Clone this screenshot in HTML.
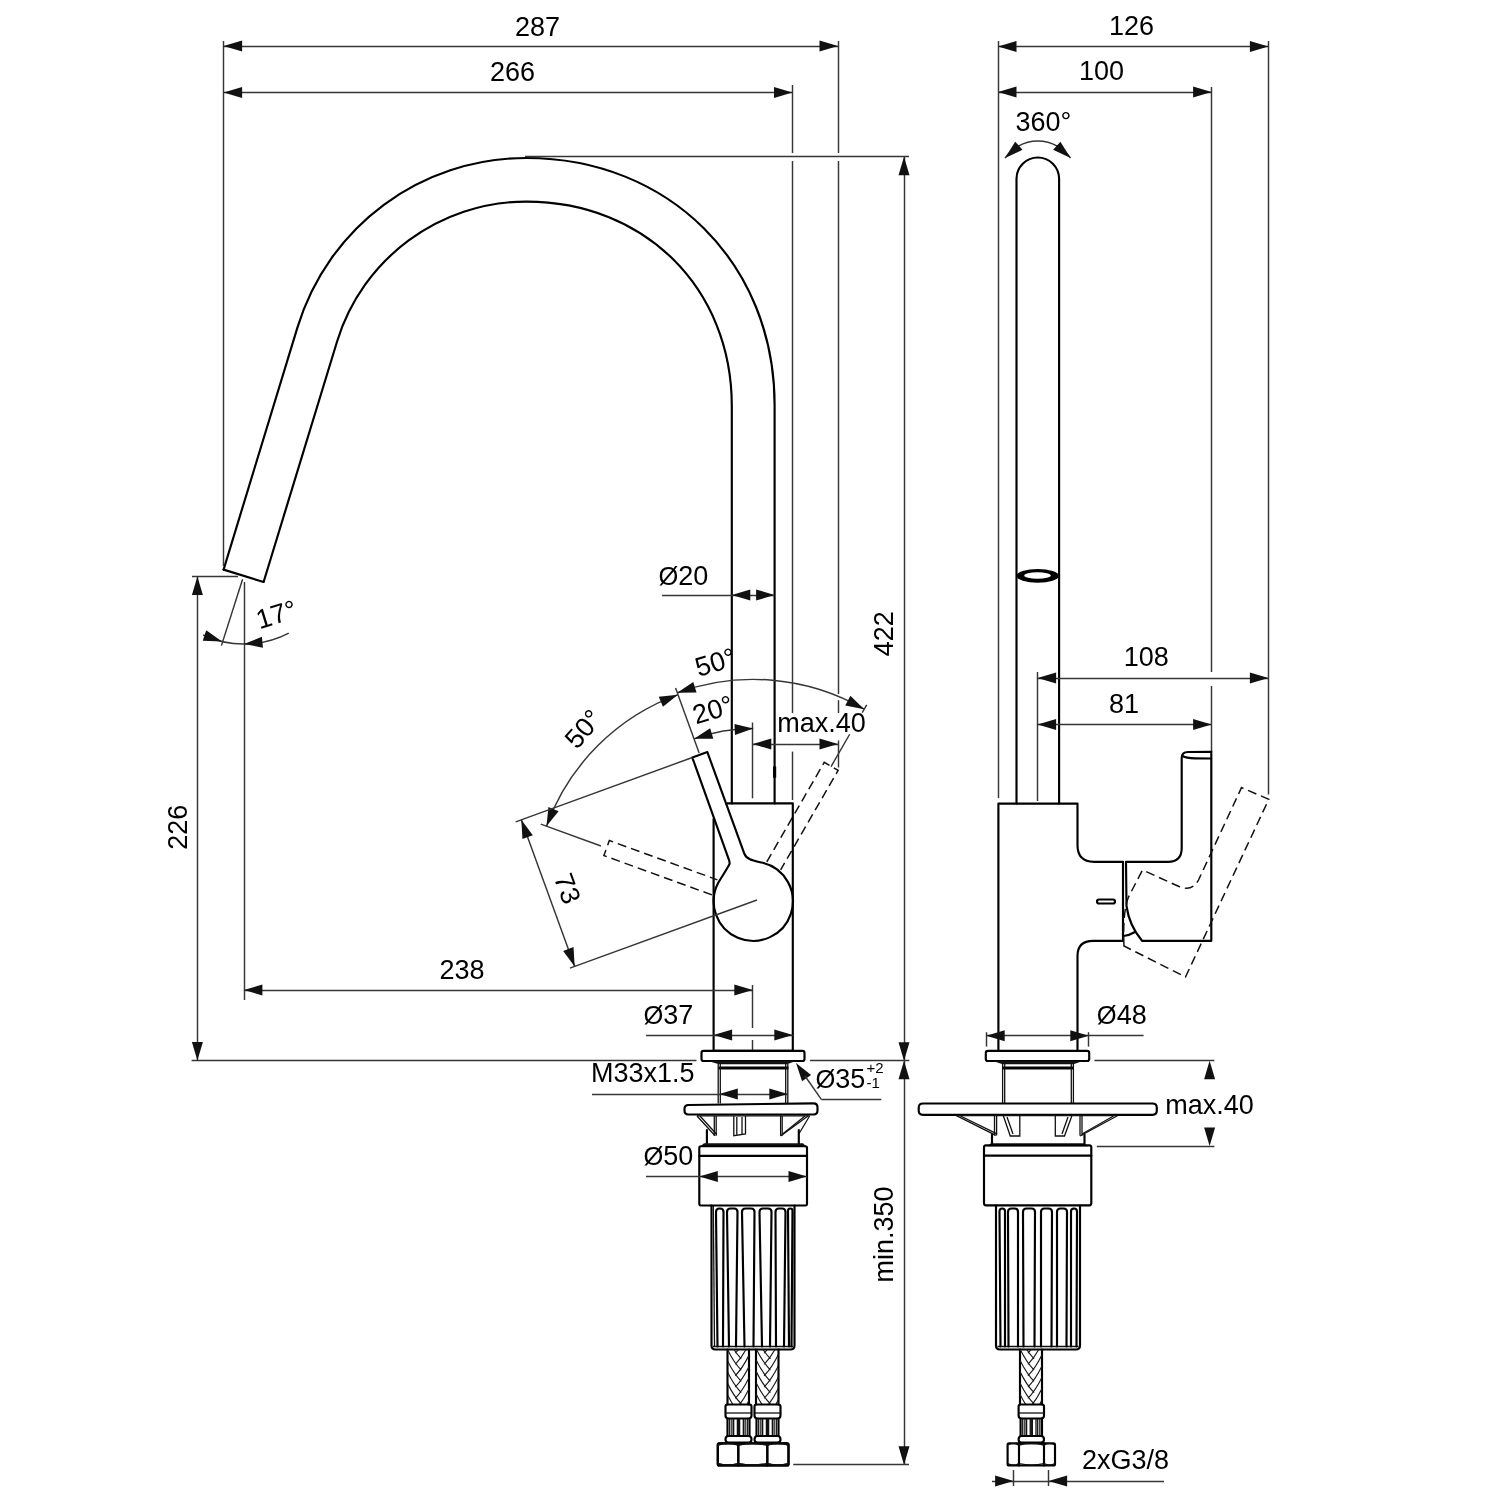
<!DOCTYPE html>
<html><head><meta charset="utf-8"><style>
html,body{margin:0;padding:0;background:#fff;width:1500px;height:1500px;overflow:hidden}
svg{display:block;will-change:transform}
.t{stroke:#363636;stroke-width:1.45;fill:none}
.k{stroke:#000;stroke-width:2.15;fill:none;stroke-linejoin:round;stroke-linecap:round}
.k1{stroke:#111;stroke-width:1.3;fill:none}
.k3{stroke:#000;stroke-width:3.2;fill:none}
.h{stroke:#1a1a1a;stroke-width:1.15;fill:none}
.d{stroke:#111;stroke-width:1.5;fill:none;stroke-dasharray:9 5}
.a{fill:#111;stroke:none}
text{font-family:"Liberation Sans",sans-serif;fill:#000}
</style></head><body>
<svg width="1500" height="1500" viewBox="0 0 1500 1500">
<rect width="1500" height="1500" fill="#fff"/>
<path class="k" d="M223.6,569.6 L297.4,327.6 C328.39,226.23 420.5,158 526.5,158 C668.5,158 774.6,263 774.6,405 L774.6,803.4" />
<path class="k" d="M263.6,582 L337,341.7 C362.44,258.5 439.5,201.6 526.5,201.6 C644.5,201.6 731.8,288 731.8,406 L731.8,803.4" />
<line class="k" x1="223.6" y1="569.6" x2="263.6" y2="582"/>
<line class="k3" x1="774.6" y1="766.5" x2="774.6" y2="777.7"/>
<path class="k" d="M727.5,803.4 L792.8,803.4 L792.8,1050.7 L713.6,1050.7 L713.6,819" />
<path class="k" transform="translate(753.2,901.4) rotate(-20)" d="M-8,-156 L8,-156 L8,-48 C8,-41 15.56,-37.5 22.2,-33 A39.6,39.6 0 1 1 -26.5,-29.4 C-22.8,-32.7 -12.5,-40 -9.4,-43.3 Q-8.6,-44.6 -8.6,-47.5 L-8,-156"/>
<path class="d" transform="translate(753.2,901.4) rotate(30)" d="M-8,-41 L-8,-156 L8,-156 L8,-41"/>
<path class="d" transform="translate(753.2,901.4) rotate(-70)" d="M-8,-41 L-8,-156 L8,-156 L8,-41"/>
<line class="t" x1="752.5" y1="722.5" x2="752.5" y2="798.3"/>
<line class="t" x1="752.5" y1="985" x2="752.5" y2="1028"/>
<line class="t" x1="752.5" y1="1040" x2="752.5" y2="1050"/>
<line class="t" x1="223.5" y1="41" x2="223.5" y2="566"/>
<line class="t" x1="838.5" y1="41" x2="838.5" y2="153"/>
<line class="t" x1="838.5" y1="161" x2="838.5" y2="694"/>
<line class="t" x1="838.5" y1="700.2" x2="838.5" y2="713"/>
<line class="t" x1="838.5" y1="740.5" x2="838.5" y2="767.5"/>
<line class="t" x1="223.6" y1="46.5" x2="838" y2="46.5"/>
<polygon class="a" points="223.6,46 242.1,51.5 242.1,40.5"/>
<polygon class="a" points="838,46 819.5,40.5 819.5,51.5"/>
<text x="537.5" y="35.5" font-size="27" text-anchor="middle">287</text>
<line class="t" x1="792.5" y1="85" x2="792.5" y2="153"/>
<line class="t" x1="792.5" y1="161" x2="792.5" y2="713"/>
<line class="t" x1="792.5" y1="751.6" x2="792.5" y2="800"/>
<line class="t" x1="223.6" y1="92.5" x2="792.5" y2="92.5"/>
<polygon class="a" points="223.6,92.5 242.1,98 242.1,87"/>
<polygon class="a" points="792.5,92.5 774,87 774,98"/>
<text x="512.5" y="80.5" font-size="27" text-anchor="middle">266</text>
<line class="t" x1="525" y1="156.5" x2="909" y2="156.5"/>
<line class="t" x1="904.5" y1="156.8" x2="904.5" y2="1464.8"/>
<polygon class="a" points="904,156.8 898.5,175.3 909.5,175.3"/>
<polygon class="a" points="904,1060.7 909.5,1042.2 898.5,1042.2"/>
<polygon class="a" points="904,1060.7 898.5,1079.2 909.5,1079.2"/>
<polygon class="a" points="904,1464.8 909.5,1446.3 898.5,1446.3"/>
<text x="893.2" y="633.8" font-size="27" text-anchor="middle" transform="rotate(-90 893.2 633.8)">422</text>
<text x="892.8" y="1234.4" font-size="27" text-anchor="middle" transform="rotate(-90 892.8 1234.4)">min.350</text>
<line class="t" x1="793.2" y1="1464.5" x2="909" y2="1464.5"/>
<line class="t" x1="191.6" y1="1060.5" x2="696.5" y2="1060.5"/>
<line class="t" x1="810" y1="1060.5" x2="909.3" y2="1060.5"/>
<line class="t" x1="192" y1="576.5" x2="238" y2="576.5"/>
<line class="t" x1="197.5" y1="576.4" x2="197.5" y2="1060.4"/>
<polygon class="a" points="197.4,576.4 191.9,594.9 202.9,594.9"/>
<polygon class="a" points="197.4,1060.4 202.9,1041.9 191.9,1041.9"/>
<text x="187.3" y="827.2" font-size="27" text-anchor="middle" transform="rotate(-90 187.3 827.2)">226</text>
<line class="t" x1="244.5" y1="582" x2="244.5" y2="1000"/>
<line class="t" x1="242.6" y1="579.2" x2="221.4" y2="645.6"/>
<path class="t" d="M203.16,634.98 A97,97 0 0 0 288.79,633.04" />
<polygon class="a" points="222.01,641.48 206.23,630.37 202.73,640.8"/>
<polygon class="a" points="244,644 262.94,647.71 261.89,636.76"/>
<text x="276.5" y="614.6" font-size="27" text-anchor="middle" transform="rotate(-17 276.5 614.6)" dy="9">17°</text>
<line class="t" x1="243.9" y1="990.5" x2="752.8" y2="990.5"/>
<polygon class="a" points="243.9,990 262.4,995.5 262.4,984.5"/>
<polygon class="a" points="752.8,990 734.3,984.5 734.3,995.5"/>
<text x="462" y="978.7" font-size="27" text-anchor="middle">238</text>
<line class="t" x1="662" y1="595.5" x2="774.6" y2="595.5"/>
<polygon class="a" points="731.8,595 750.3,600.5 750.3,589.5"/>
<polygon class="a" points="774.6,595 756.1,589.5 756.1,600.5"/>
<text x="658.5" y="585" font-size="27"><tspan font-size="25.5">Ø</tspan>20</text>
<line class="t" x1="646" y1="1035.5" x2="792.8" y2="1035.5"/>
<polygon class="a" points="713.6,1035.1 732.1,1040.6 732.1,1029.6"/>
<polygon class="a" points="792.8,1035.1 774.3,1029.6 774.3,1040.6"/>
<text x="643.5" y="1024" font-size="27"><tspan font-size="25.5">Ø</tspan>37</text>
<path class="t" d="M694.03,738.83 A173,173 0 0 1 753.2,728.4" />
<polygon class="a" points="694.03,738.83 713.33,738.71 710.13,728.18"/>
<polygon class="a" points="753.2,728.4 734.43,723.9 735.02,734.88"/>
<text x="713" y="710" font-size="27" text-anchor="middle" transform="rotate(-17 713 710)" dy="9">20°</text>
<path class="t" d="M677.27,692.79 A222,222 0 0 1 864.2,709.14" />
<polygon class="a" points="677.27,692.79 696.57,692.43 693.24,681.95"/>
<polygon class="a" points="864.2,709.14 850.36,695.69 845.26,705.44"/>
<text x="715.5" y="662.5" font-size="27" text-anchor="middle" transform="rotate(-17 715.5 662.5)" dy="9">50°</text>
<path class="t" d="M546.47,826.16 A220,220 0 0 1 677.96,694.67" />
<polygon class="a" points="677.96,694.67 658.76,696.64 662.95,706.8"/>
<polygon class="a" points="546.47,826.16 558.6,811.15 548.44,806.96"/>
<text x="583.5" y="729" font-size="27" text-anchor="middle" transform="rotate(-49 583.5 729)" dy="9">50°</text>
<line class="t" x1="699.16" y1="752.93" x2="675.56" y2="688.09"/>
<line class="t" x1="831.05" y1="766.56" x2="849.7" y2="734.26"/>
<line class="t" x1="862.2" y1="712.61" x2="866.7" y2="704.81"/>
<line class="t" x1="600.97" y1="845.99" x2="540.83" y2="824.1"/>
<line class="t" x1="692.33" y1="757.54" x2="515.67" y2="821.84"/>
<line class="t" x1="756.96" y1="900.03" x2="569.96" y2="968.09"/>
<line class="t" x1="521.3" y1="819.79" x2="574.66" y2="966.38"/>
<polygon class="a" points="521.3,819.79 522.46,839.06 532.8,835.29"/>
<polygon class="a" points="574.66,966.38 573.5,947.12 563.16,950.88"/>
<text x="567.5" y="888.5" font-size="27" text-anchor="middle" transform="rotate(70 567.5 888.5)" dy="9.3">73</text>
<line class="t" x1="752.8" y1="744.5" x2="838" y2="744.5"/>
<polygon class="a" points="752.8,744.1 771.3,749.6 771.3,738.6"/>
<polygon class="a" points="838,744.1 819.5,738.6 819.5,749.6"/>
<text x="777.2" y="732.3" font-size="27">max.40</text>
<path class="k" d="M703.5,1050.8 L802.5,1050.8 Q804.5,1050.8 804.5,1053 L804.5,1059 Q804.5,1061 802.5,1061 L703.5,1061 Q701.5,1061 701.5,1059 L701.5,1053 Q701.5,1050.8 703.5,1050.8 Z" />
<polygon class="a" points="708,1061 796,1061 787,1064.2 719,1064.2"/>
<line class="k3" x1="718.5" y1="1068" x2="788.5" y2="1068"/>
<line class="k1" x1="718.2" y1="1064" x2="718.2" y2="1103.5"/>
<line class="k1" x1="720.3" y1="1064" x2="720.3" y2="1103.5"/>
<line class="k1" x1="785.7" y1="1064" x2="785.7" y2="1103.5"/>
<line class="k1" x1="787.8" y1="1064" x2="787.8" y2="1103.5"/>
<line class="t" x1="592" y1="1094.5" x2="787.8" y2="1094.5"/>
<polygon class="a" points="719.3,1094 737.8,1099.5 737.8,1088.5"/>
<polygon class="a" points="787.8,1094 769.3,1088.5 769.3,1099.5"/>
<text x="591" y="1082" font-size="27">M33x1.5</text>
<polygon class="a" points="796,1063 802.07,1081.32 811.09,1075.03"/>
<line class="t" x1="805" y1="1076" x2="821.3" y2="1099.3"/>
<line class="t" x1="821.3" y1="1099.5" x2="881.3" y2="1099.5"/>
<text x="815.5" y="1088" font-size="27"><tspan font-size="25.5">Ø</tspan>35</text>
<text x="866.5" y="1073" font-size="15">+2</text>
<text x="866.5" y="1087.6" font-size="15">-1</text>
<path class="k" d="M688.5,1105 L813.5,1103.3 Q817.5,1103.3 817.5,1107.3 L817.5,1110.5 Q817.5,1114.5 813.5,1114.5 L688.5,1114.5 Q684.5,1114.5 684.5,1110.5 L684.5,1109 Q684.5,1105 688.5,1105 Z" />
<line class="k1" x1="697" y1="1115.8" x2="809.6" y2="1115.8"/>
<line class="k1" x1="697" y1="1116" x2="715.1" y2="1135.7"/>
<line class="k1" x1="700" y1="1116" x2="716.8" y2="1134.5"/>
<line class="k1" x1="808" y1="1116" x2="780.6" y2="1136"/>
<line class="k1" x1="805" y1="1116" x2="782" y2="1134.5"/>
<line class="k1" x1="809.6" y1="1116" x2="798.5" y2="1134.5"/>
<line class="k1" x1="714.3" y1="1116" x2="714.3" y2="1135.7"/>
<line class="k1" x1="716.2" y1="1116" x2="716.2" y2="1135.7"/>
<line class="k1" x1="780.6" y1="1116" x2="780.6" y2="1135.7"/>
<line class="k1" x1="782.2" y1="1116" x2="782.2" y2="1135.7"/>
<path class="k1" d="M733.8,1116 L733.8,1135.7 L745.5,1134 L745.5,1116 M736.8,1117 L736.8,1134.5 M742,1117 L742,1134" />
<line class="k" x1="706.9" y1="1130" x2="706.9" y2="1144.5"/>
<line class="k" x1="798.8" y1="1130" x2="798.8" y2="1144.5"/>
<polygon class="a" points="704,1143.2 803,1143.2 806,1146.2 700.5,1146.2"/>
<path class="k" d="M701,1146.2 L805.3,1146.2 Q807,1146.2 807,1148 L807,1203.8 Q807,1205.5 805.3,1205.5 L701,1205.5 Q699.3,1205.5 699.3,1203.8 L699.3,1148 Q699.3,1146.2 701,1146.2 Z" />
<line class="k" x1="699.3" y1="1155.8" x2="807" y2="1155.8"/>
<line class="t" x1="646" y1="1176.5" x2="807" y2="1176.5"/>
<polygon class="a" points="699.3,1176.5 717.8,1182 717.8,1171"/>
<polygon class="a" points="807,1176.5 788.5,1171 788.5,1182"/>
<text x="643.5" y="1165" font-size="27"><tspan font-size="25.5">Ø</tspan>50</text>
<path class="k" d="M711.5,1205.5 L711.5,1345.5 Q711.5,1349.5 715.5,1349.5 L790.5,1349.5 Q794.5,1349.5 794.5,1345.5 L794.5,1205.5" />
<line class="k1" x1="713" y1="1346.5" x2="793" y2="1346.5"/>
<path class="k" d="M717.5,1346.5 L716,1212.0 Q716,1208.5 719.5,1208.5 L720,1208.5 Q723.5,1208.5 723.5,1212.0 L723,1346.5" />
<path class="k" d="M729,1346.5 L727,1212.0 Q727,1208.5 730.5,1208.5 L734,1208.5 Q737.5,1208.5 737.5,1212.0 L736,1346.5" />
<path class="k" d="M744.5,1346.5 L742,1212.0 Q742,1208.5 745.5,1208.5 L751,1208.5 Q754.5,1208.5 754.5,1212.0 L753.5,1346.5" />
<path class="k" d="M762,1346.5 L759.5,1212.0 Q759.5,1208.5 763,1208.5 L768,1208.5 Q771.5,1208.5 771.5,1212.0 L770,1346.5" />
<path class="k" d="M776,1346.5 L775.5,1212.0 Q775.5,1208.5 779,1208.5 L782,1208.5 Q785.5,1208.5 785.5,1212.0 L784,1346.5" />
<path class="k" d="M789,1346.5 L788,1210.75 Q788,1208.5 790.25,1208.5 L790.25,1208.5 Q792.5,1208.5 792.5,1210.75 L791.5,1346.5" />
<line class="k1" x1="713.3" y1="1206" x2="714.5" y2="1346"/>
<line class="k" x1="727.5" y1="1349.5" x2="727.5" y2="1404.5"/>
<line class="k" x1="749" y1="1349.5" x2="749" y2="1404.5"/>
<clipPath id="hc727"><rect x="727.5" y="1349.5" width="21.5" height="55"/></clipPath>
<path class="h" d="M727.5,1326.86 Q733.69,1339.66 741.26,1347.5 M749,1332.51 Q742.81,1345.31 735.24,1353.15 M727.5,1338.16 Q733.69,1350.96 741.26,1358.8 M749,1343.81 Q742.81,1356.61 735.24,1364.45 M727.5,1349.46 Q733.69,1362.26 741.26,1370.1 M749,1355.11 Q742.81,1367.91 735.24,1375.75 M727.5,1360.76 Q733.69,1373.56 741.26,1381.4 M749,1366.41 Q742.81,1379.21 735.24,1387.05 M727.5,1372.06 Q733.69,1384.86 741.26,1392.7 M749,1377.71 Q742.81,1390.51 735.24,1398.35 M727.5,1383.36 Q733.69,1396.16 741.26,1404 M749,1389.01 Q742.81,1401.81 735.24,1409.65 M727.5,1394.66 Q733.69,1407.46 741.26,1415.3 M749,1400.31 Q742.81,1413.11 735.24,1420.95 M727.5,1405.96 Q733.69,1418.76 741.26,1426.6 M749,1411.61 Q742.81,1424.41 735.24,1432.25 " clip-path="url(#hc727)"/>
<line class="k" x1="756" y1="1349.5" x2="756" y2="1404.5"/>
<line class="k" x1="778.5" y1="1349.5" x2="778.5" y2="1404.5"/>
<clipPath id="hc756"><rect x="756" y="1349.5" width="22.5" height="55"/></clipPath>
<path class="h" d="M756,1325.9 Q762.48,1339.29 770.4,1347.5 M778.5,1331.55 Q772.02,1344.94 764.1,1353.15 M756,1337.2 Q762.48,1350.59 770.4,1358.8 M778.5,1342.85 Q772.02,1356.24 764.1,1364.45 M756,1348.5 Q762.48,1361.89 770.4,1370.1 M778.5,1354.15 Q772.02,1367.54 764.1,1375.75 M756,1359.8 Q762.48,1373.19 770.4,1381.4 M778.5,1365.45 Q772.02,1378.84 764.1,1387.05 M756,1371.1 Q762.48,1384.49 770.4,1392.7 M778.5,1376.75 Q772.02,1390.14 764.1,1398.35 M756,1382.4 Q762.48,1395.79 770.4,1404 M778.5,1388.05 Q772.02,1401.44 764.1,1409.65 M756,1393.7 Q762.48,1407.09 770.4,1415.3 M778.5,1399.35 Q772.02,1412.74 764.1,1420.95 M756,1405 Q762.48,1418.39 770.4,1426.6 M778.5,1410.65 Q772.02,1424.04 764.1,1432.25 " clip-path="url(#hc756)"/>
<path class="k" d="M727.5,1404.5 L749.5,1404.5 Q751.5,1404.5 751.5,1406.5 L751.5,1415.5 Q751.5,1418.5 748.5,1418.5 L728.5,1418.5 Q725.5,1418.5 725.5,1415.5 L725.5,1406.5 Q725.5,1404.5 727.5,1404.5 Z" />
<line class="k1" x1="725.5" y1="1413" x2="751.5" y2="1413"/>
<line class="k" x1="727.5" y1="1418.5" x2="727.5" y2="1436"/>
<line class="k" x1="749.5" y1="1418.5" x2="749.5" y2="1436"/>
<line class="k1" x1="729.7" y1="1418.5" x2="729.7" y2="1436"/>
<line class="k1" x1="731.9" y1="1418.5" x2="731.9" y2="1436"/>
<line class="k1" x1="733.66" y1="1418.5" x2="733.66" y2="1436"/>
<line class="k1" x1="737.4" y1="1418.5" x2="737.4" y2="1436"/>
<line class="k1" x1="738.5" y1="1418.5" x2="738.5" y2="1436"/>
<line class="k1" x1="739.6" y1="1418.5" x2="739.6" y2="1436"/>
<line class="k1" x1="743.34" y1="1418.5" x2="743.34" y2="1436"/>
<line class="k1" x1="745.1" y1="1418.5" x2="745.1" y2="1436"/>
<line class="k1" x1="747.3" y1="1418.5" x2="747.3" y2="1436"/>
<path class="k" d="M728.5,1436.0 L748.5,1436.0 Q751.5,1436.0 751.5,1439.5 Q751.5,1442.5 748.5,1442.5 L728.5,1442.5 Q725.5,1442.5 725.5,1439.5 Q725.5,1436.0 728.5,1436.0 Z" />
<path class="k" d="M719.3,1443.2 L787,1443.2 Q788.5,1443.2 788.5,1444.7 L788.5,1464.0 Q788.5,1465.5 787,1465.5 L719.3,1465.5 Q717.8,1465.5 717.8,1464.0 L717.8,1444.7 Q717.8,1443.2 719.3,1443.2 Z" />
<line class="k" x1="738.3" y1="1443.2" x2="738.3" y2="1465.5"/>
<line class="k" x1="767.3" y1="1443.2" x2="767.3" y2="1465.5"/>
<path class="k1" d="M717.8,1445.0 Q728.05,1442.4 738.3,1445.0 M717.8,1463.7 Q728.05,1466.3 738.3,1463.7" />
<path class="k1" d="M738.3,1445.0 Q752.8,1442.4 767.3,1445.0 M738.3,1463.7 Q752.8,1466.3 767.3,1463.7" />
<path class="k1" d="M767.3,1445.0 Q777.9,1442.4 788.5,1445.0 M767.3,1463.7 Q777.9,1466.3 788.5,1463.7" />
<path class="k" d="M756.5,1404.5 L778.5,1404.5 Q780.5,1404.5 780.5,1406.5 L780.5,1415.5 Q780.5,1418.5 777.5,1418.5 L757.5,1418.5 Q754.5,1418.5 754.5,1415.5 L754.5,1406.5 Q754.5,1404.5 756.5,1404.5 Z" />
<line class="k1" x1="754.5" y1="1413" x2="780.5" y2="1413"/>
<line class="k" x1="756.5" y1="1418.5" x2="756.5" y2="1436"/>
<line class="k" x1="778.5" y1="1418.5" x2="778.5" y2="1436"/>
<line class="k1" x1="758.7" y1="1418.5" x2="758.7" y2="1436"/>
<line class="k1" x1="760.9" y1="1418.5" x2="760.9" y2="1436"/>
<line class="k1" x1="762.66" y1="1418.5" x2="762.66" y2="1436"/>
<line class="k1" x1="766.4" y1="1418.5" x2="766.4" y2="1436"/>
<line class="k1" x1="767.5" y1="1418.5" x2="767.5" y2="1436"/>
<line class="k1" x1="768.6" y1="1418.5" x2="768.6" y2="1436"/>
<line class="k1" x1="772.34" y1="1418.5" x2="772.34" y2="1436"/>
<line class="k1" x1="774.1" y1="1418.5" x2="774.1" y2="1436"/>
<line class="k1" x1="776.3" y1="1418.5" x2="776.3" y2="1436"/>
<path class="k" d="M757.5,1436.0 L777.5,1436.0 Q780.5,1436.0 780.5,1439.5 Q780.5,1442.5 777.5,1442.5 L757.5,1442.5 Q754.5,1442.5 754.5,1439.5 Q754.5,1436.0 757.5,1436.0 Z" />
<path class="k" d="M719.3,1443.2 L787,1443.2 Q788.5,1443.2 788.5,1444.7 L788.5,1464.0 Q788.5,1465.5 787,1465.5 L719.3,1465.5 Q717.8,1465.5 717.8,1464.0 L717.8,1444.7 Q717.8,1443.2 719.3,1443.2 Z" />
<line class="k" x1="738.3" y1="1443.2" x2="738.3" y2="1465.5"/>
<line class="k" x1="767.3" y1="1443.2" x2="767.3" y2="1465.5"/>
<path class="k1" d="M717.8,1445.0 Q728.05,1442.4 738.3,1445.0 M717.8,1463.7 Q728.05,1466.3 738.3,1463.7" />
<path class="k1" d="M738.3,1445.0 Q752.8,1442.4 767.3,1445.0 M738.3,1463.7 Q752.8,1466.3 767.3,1463.7" />
<path class="k1" d="M767.3,1445.0 Q777.9,1442.4 788.5,1445.0 M767.3,1463.7 Q777.9,1466.3 788.5,1463.7" />
<line class="t" x1="998.5" y1="41" x2="998.5" y2="798"/>
<line class="t" x1="1268.5" y1="41" x2="1268.5" y2="794.6"/>
<line class="t" x1="998" y1="46.5" x2="1268.4" y2="46.5"/>
<polygon class="a" points="998,46.5 1016.5,52 1016.5,41"/>
<polygon class="a" points="1268.4,46.5 1249.9,41 1249.9,52"/>
<text x="1131.5" y="35.4" font-size="27" text-anchor="middle">126</text>
<line class="t" x1="1211.5" y1="87" x2="1211.5" y2="672"/>
<line class="t" x1="1211.5" y1="686" x2="1211.5" y2="752"/>
<line class="t" x1="998" y1="92.5" x2="1211.6" y2="92.5"/>
<polygon class="a" points="998,92.1 1016.5,97.6 1016.5,86.6"/>
<polygon class="a" points="1211.6,92.1 1193.1,86.6 1193.1,97.6"/>
<text x="1101.5" y="80.4" font-size="27" text-anchor="middle">100</text>
<path class="t" d="M1005.03,158.06 A40,40 0 0 1 1070.57,158.06" />
<polygon class="a" points="1005.03,158.06 1022.5,149.84 1015.17,141.63"/>
<polygon class="a" points="1070.57,158.06 1060.43,141.63 1053.1,149.84"/>
<text x="1043.5" y="130.8" font-size="27" text-anchor="middle">360°</text>
<path class="k" d="M1016.5,803.6 L1016.5,178.8 A21.3,21.3 0 0 1 1059.1,178.8 L1059.1,803.6" />
<ellipse cx="1037.7" cy="575.8" rx="21.2" ry="6.9" fill="#000"/>
<ellipse cx="1037.5" cy="575.5" rx="13.3" ry="3.3" fill="#fff"/>
<line class="t" x1="1037.5" y1="672" x2="1037.5" y2="801"/>
<line class="t" x1="1037.6" y1="678.5" x2="1268.4" y2="678.5"/>
<polygon class="a" points="1037.6,678 1056.1,683.5 1056.1,672.5"/>
<polygon class="a" points="1268.4,678 1249.9,672.5 1249.9,683.5"/>
<text x="1146.3" y="666.4" font-size="27" text-anchor="middle">108</text>
<line class="t" x1="1037.6" y1="724.5" x2="1211.6" y2="724.5"/>
<polygon class="a" points="1037.6,724.4 1056.1,729.9 1056.1,718.9"/>
<polygon class="a" points="1211.6,724.4 1193.1,718.9 1193.1,729.9"/>
<text x="1124" y="713" font-size="27" text-anchor="middle">81</text>
<path class="k" d="M998.4,1051 L998.4,803.6 L1077.5,803.6 L1077.5,845 Q1077.5,861.8 1094,861.8 L1123,861.8 L1123,940.8 L1093,940.8 Q1077.5,940.8 1077.5,956 L1077.5,1051" />
<path class="k" d="M1126,861.8 L1168,861.8 Q1181.7,861.8 1181.7,848 L1181.7,758 Q1181.7,752 1188,752 L1211.3,751.7 L1211.3,940.8 L1142,940.8 Q1129,925 1126.5,906 L1126,861.8" />
<path class="k" d="M1182.5,756 Q1186,758.3 1195,758.3 L1211,758.5" />
<path class="k" d="M1123.5,936 Q1129,935.5 1135,932" />
<path class="k" d="M1099,899.5 L1113,899.5 Q1115,899.5 1115,901.5 Q1115,903.5 1113,903.5 L1099,903.5 Q1097,903.5 1097,901.5 Q1097,899.5 1099,899.5 Z" />
<path class="d" d="M1124,946 C1123,928 1124,908 1128.5,897 L1142.5,870 L1179,886.5 Q1192,892 1198.5,880 L1241.5,787.6 L1268.8,799.3 L1185.5,977 Z" />
<line class="t" x1="986.5" y1="1032.2" x2="986.5" y2="1046.6"/>
<line class="t" x1="1088.5" y1="1032.2" x2="1088.5" y2="1046.6"/>
<line class="t" x1="986.2" y1="1035.5" x2="1143.6" y2="1035.5"/>
<polygon class="a" points="986.2,1035.8 1004.7,1041.3 1004.7,1030.3"/>
<polygon class="a" points="1088.8,1035.8 1070.3,1030.3 1070.3,1041.3"/>
<text x="1096.8" y="1024.4" font-size="27"><tspan font-size="25.5">Ø</tspan>48</text>
<path class="k" d="M988,1050.8 L1087,1050.8 Q1089.2,1050.8 1089.2,1053 L1089.2,1059 Q1089.2,1061 1087,1061 L988,1061 Q985.8,1061 985.8,1059 L985.8,1053 Q985.8,1050.8 988,1050.8 Z" />
<polygon class="a" points="993,1061 1083,1061 1073.4,1064.2 1002.6,1064.2"/>
<line class="k3" x1="1002.6" y1="1068" x2="1073.4" y2="1068"/>
<line class="k1" x1="1002.6" y1="1064" x2="1002.6" y2="1103.5"/>
<line class="k1" x1="1004.7" y1="1064" x2="1004.7" y2="1103.5"/>
<line class="k1" x1="1071.3" y1="1064" x2="1071.3" y2="1103.5"/>
<line class="k1" x1="1073.4" y1="1064" x2="1073.4" y2="1103.5"/>
<line class="t" x1="1094.4" y1="1060.5" x2="1214.4" y2="1060.5"/>
<line class="t" x1="1096.8" y1="1146.5" x2="1214.4" y2="1146.5"/>
<polygon class="a" points="1209.6,1060.8 1204.1,1079.3 1215.1,1079.3"/>
<polygon class="a" points="1209.6,1146 1215.1,1127.5 1204.1,1127.5"/>
<text x="1165.3" y="1113.6" font-size="27">max.40</text>
<path class="k" d="M923,1103.5 L1152.5,1103.5 Q1156.8,1103.5 1156.8,1107.8 L1156.8,1110.5 Q1156.8,1114.8 1152.5,1114.8 L923,1114.8 Q918.7,1114.8 918.7,1110.5 L918.7,1107.8 Q918.7,1103.5 923,1103.5 Z" />
<line class="k1" x1="956.5" y1="1115.7" x2="1117.4" y2="1115.7"/>
<line class="k1" x1="956.5" y1="1115.7" x2="995.8" y2="1135.4"/>
<line class="k1" x1="960.5" y1="1116" x2="997" y2="1133.8"/>
<line class="k1" x1="1117.4" y1="1115.7" x2="1080" y2="1136"/>
<line class="k1" x1="1113.5" y1="1116" x2="1082" y2="1134"/>
<line class="k1" x1="994.5" y1="1116" x2="994.5" y2="1135.5"/>
<line class="k1" x1="996.6" y1="1116" x2="996.6" y2="1135.5"/>
<line class="k1" x1="1080" y1="1116" x2="1080" y2="1135.5"/>
<line class="k1" x1="1082" y1="1116" x2="1082" y2="1135.5"/>
<path class="k1" d="M1003.4,1116 L1010.3,1136 L1019.8,1136 L1019.8,1116 M1007,1117 L1013,1134 M1055.3,1116 L1055.3,1136 L1064.5,1136 L1071.8,1116 M1068,1117 L1062,1134" />
<line class="k" x1="992" y1="1134.8" x2="992" y2="1144.5"/>
<line class="k" x1="1084.5" y1="1134.8" x2="1084.5" y2="1144.5"/>
<polygon class="a" points="991,1143.2 1084,1143.2 1088,1146.2 987,1146.2"/>
<path class="k" d="M986,1145.3 L1089.3,1145.3 Q1091.3,1145.3 1091.3,1147.3 L1091.3,1203.3 Q1091.3,1205.3 1089.3,1205.3 L986,1205.3 Q984,1205.3 984,1203.3 L984,1147.3 Q984,1145.3 986,1145.3 Z" />
<line class="k" x1="984" y1="1155.6" x2="1091.3" y2="1155.6"/>
<path class="k" d="M996,1205.5 L996,1345.5 Q996,1349.5 1000,1349.5 L1076,1349.5 Q1080,1349.5 1080,1345.5 L1080,1205.5" />
<line class="k1" x1="997.5" y1="1346.5" x2="1078.5" y2="1346.5"/>
<path class="k" d="M1000.5,1346.5 L999.5,1211.25 Q999.5,1208.5 1002.25,1208.5 L1002.25,1208.5 Q1005,1208.5 1005,1211.25 L1005,1346.5" />
<path class="k" d="M1008.5,1346.5 L1008,1212.0 Q1008,1208.5 1011.5,1208.5 L1014.5,1208.5 Q1018,1208.5 1018,1212.0 L1018,1346.5" />
<path class="k" d="M1023.5,1346.5 L1023,1212.0 Q1023,1208.5 1026.5,1208.5 L1031.5,1208.5 Q1035,1208.5 1035,1212.0 L1034.5,1346.5" />
<path class="k" d="M1041,1346.5 L1041,1212.0 Q1041,1208.5 1044.5,1208.5 L1048.5,1208.5 Q1052,1208.5 1052,1212.0 L1051.5,1346.5" />
<path class="k" d="M1057,1346.5 L1057,1212.0 Q1057,1208.5 1060.5,1208.5 L1063.5,1208.5 Q1067,1208.5 1067,1212.0 L1066.5,1346.5" />
<path class="k" d="M1071,1346.5 L1071,1211.5 Q1071,1208.5 1074,1208.5 L1074,1208.5 Q1077,1208.5 1077,1211.5 L1076.5,1346.5" />
<line class="k" x1="1020" y1="1349.5" x2="1020" y2="1404.5"/>
<line class="k" x1="1042" y1="1349.5" x2="1042" y2="1404.5"/>
<clipPath id="hc1020"><rect x="1020" y="1349.5" width="22" height="55"/></clipPath>
<path class="h" d="M1020,1326.38 Q1026.34,1339.47 1034.08,1347.5 M1042,1332.03 Q1035.66,1345.12 1027.92,1353.15 M1020,1337.68 Q1026.34,1350.77 1034.08,1358.8 M1042,1343.33 Q1035.66,1356.42 1027.92,1364.45 M1020,1348.98 Q1026.34,1362.07 1034.08,1370.1 M1042,1354.63 Q1035.66,1367.72 1027.92,1375.75 M1020,1360.28 Q1026.34,1373.37 1034.08,1381.4 M1042,1365.93 Q1035.66,1379.02 1027.92,1387.05 M1020,1371.58 Q1026.34,1384.67 1034.08,1392.7 M1042,1377.23 Q1035.66,1390.32 1027.92,1398.35 M1020,1382.88 Q1026.34,1395.97 1034.08,1404 M1042,1388.53 Q1035.66,1401.62 1027.92,1409.65 M1020,1394.18 Q1026.34,1407.27 1034.08,1415.3 M1042,1399.83 Q1035.66,1412.92 1027.92,1420.95 M1020,1405.48 Q1026.34,1418.57 1034.08,1426.6 M1042,1411.13 Q1035.66,1424.22 1027.92,1432.25 " clip-path="url(#hc1020)"/>
<path class="k" d="M1020.6,1404.5 L1042,1404.5 Q1044,1404.5 1044,1406.5 L1044,1415.5 Q1044,1418.5 1041,1418.5 L1021.6,1418.5 Q1018.6,1418.5 1018.6,1415.5 L1018.6,1406.5 Q1018.6,1404.5 1020.6,1404.5 Z" />
<line class="k1" x1="1018.6" y1="1413" x2="1044" y2="1413"/>
<line class="k" x1="1020.6" y1="1418.5" x2="1020.6" y2="1436"/>
<line class="k" x1="1042" y1="1418.5" x2="1042" y2="1436"/>
<line class="k1" x1="1022.74" y1="1418.5" x2="1022.74" y2="1436"/>
<line class="k1" x1="1024.88" y1="1418.5" x2="1024.88" y2="1436"/>
<line class="k1" x1="1026.59" y1="1418.5" x2="1026.59" y2="1436"/>
<line class="k1" x1="1030.23" y1="1418.5" x2="1030.23" y2="1436"/>
<line class="k1" x1="1031.3" y1="1418.5" x2="1031.3" y2="1436"/>
<line class="k1" x1="1032.37" y1="1418.5" x2="1032.37" y2="1436"/>
<line class="k1" x1="1036.01" y1="1418.5" x2="1036.01" y2="1436"/>
<line class="k1" x1="1037.72" y1="1418.5" x2="1037.72" y2="1436"/>
<line class="k1" x1="1039.86" y1="1418.5" x2="1039.86" y2="1436"/>
<path class="k" d="M1021.6,1436.0 L1041,1436.0 Q1044,1436.0 1044,1439.5 Q1044,1442.5 1041,1442.5 L1021.6,1442.5 Q1018.6,1442.5 1018.6,1439.5 Q1018.6,1436.0 1021.6,1436.0 Z" />
<path class="k" d="M1009.1,1443.2 L1053.5,1443.2 Q1055,1443.2 1055,1444.7 L1055,1464.0 Q1055,1465.5 1053.5,1465.5 L1009.1,1465.5 Q1007.6,1465.5 1007.6,1464.0 L1007.6,1444.7 Q1007.6,1443.2 1009.1,1443.2 Z" />
<line class="k" x1="1019" y1="1443.2" x2="1019" y2="1465.5"/>
<line class="k" x1="1044" y1="1443.2" x2="1044" y2="1465.5"/>
<path class="k1" d="M1007.6,1445.0 Q1013.3,1442.4 1019,1445.0 M1007.6,1463.7 Q1013.3,1466.3 1019,1463.7" />
<path class="k1" d="M1019,1445.0 Q1031.5,1442.4 1044,1445.0 M1019,1463.7 Q1031.5,1466.3 1044,1463.7" />
<path class="k1" d="M1044,1445.0 Q1049.5,1442.4 1055,1445.0 M1044,1463.7 Q1049.5,1466.3 1055,1463.7" />
<line class="t" x1="1013.5" y1="1470" x2="1013.5" y2="1486"/>
<line class="t" x1="1048.5" y1="1470" x2="1048.5" y2="1486"/>
<line class="t" x1="992" y1="1481.5" x2="1164" y2="1481.5"/>
<polygon class="a" points="1013.6,1481 995.1,1475.5 995.1,1486.5"/>
<polygon class="a" points="1048.6,1481 1067.1,1486.5 1067.1,1475.5"/>
<text x="1082" y="1469" font-size="27">2xG3/8</text>
</svg>
</body></html>
